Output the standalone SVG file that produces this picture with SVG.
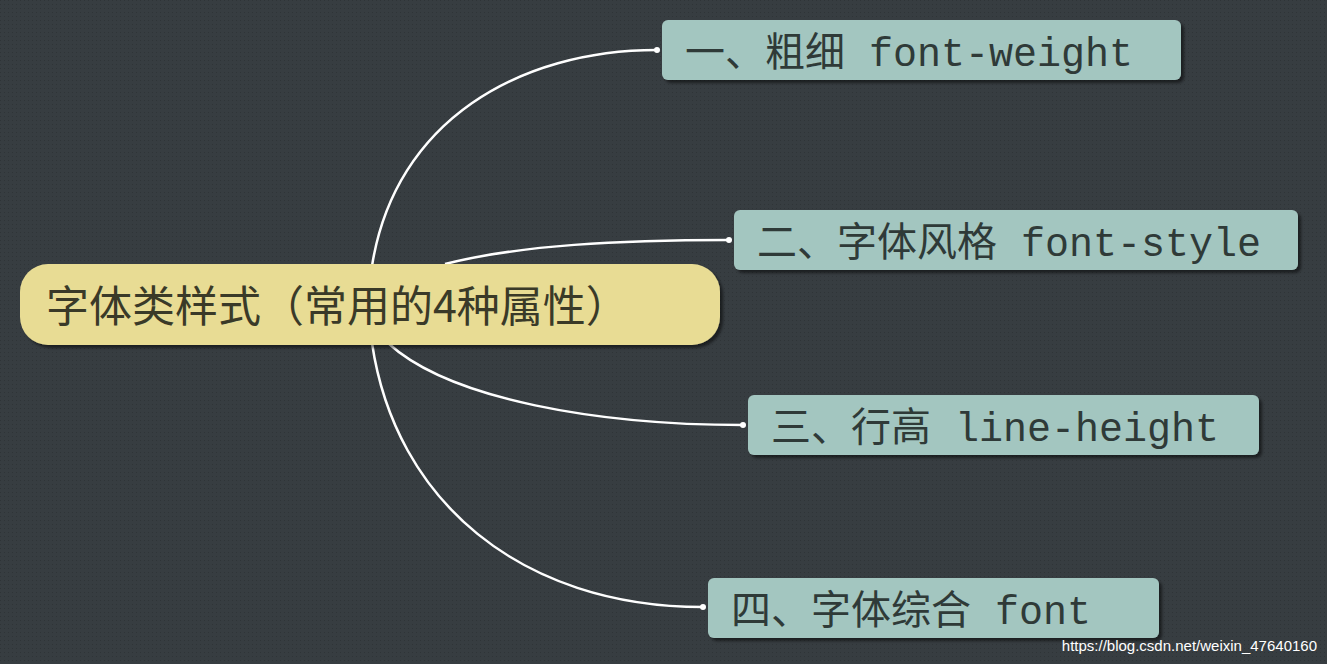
<svg xmlns="http://www.w3.org/2000/svg" width="1327" height="664" viewBox="0 0 1327 664">
<defs>
<pattern id="dots" width="4" height="4" patternUnits="userSpaceOnUse"><rect width="4" height="4" fill="#373d41"/><rect width="1" height="1" fill="#2f3437"/></pattern>
<filter id="sh" x="-5%" y="-20%" width="110%" height="140%"><feDropShadow dx="3" dy="3" stdDeviation="1.5" flood-color="#000" flood-opacity="0.5"/></filter>
<clipPath id="c2"><rect x="734" y="210" width="564" height="60" rx="6"/></clipPath>
</defs>
<style>
.child{fill:#a3c6c0;filter:url(#sh)}
.t{font-family:"Liberation Mono","Noto Sans CJK SC",monospace;font-size:40px;fill:#2f3a38}
.c{fill:none;stroke:#fff;stroke-width:2.5}
</style>
<rect width="1327" height="664" fill="url(#dots)"/>
<g id="connectors">
<path class="c" d="M372,266 C395,120 520,50 657,50"/>
<path class="c" d="M445,264 C520,245 620,240 729,240"/>
<path class="c" d="M388,343 C450,400 600,425 743,425"/>
<path class="c" d="M372,343 C395,500 520,607 703,607"/>
<g fill="#fff"><circle cx="657" cy="50" r="3"/><circle cx="729" cy="240" r="3"/><circle cx="743" cy="425" r="3"/><circle cx="703" cy="607" r="3"/></g>
</g>
<g id="root">
<rect x="20" y="264" width="700" height="81" rx="28" fill="#e8dc94" filter="url(#sh)"/>
<text x="46" y="322" style="font-family:'Noto Sans CJK SC',sans-serif;font-size:43px;fill:#3a3a28">字体类样式（常用的4种属性）</text>
</g>
<g id="n1"><rect class="child" x="662" y="20" width="519" height="60" rx="6"/><text class="t" x="685" y="66">一、粗细 font-weight</text></g>
<g id="n2"><rect class="child" x="734" y="210" width="564" height="60" rx="6"/><text class="t" x="757" y="256" clip-path="url(#c2)">二、字体风格 font-style</text></g>
<g id="n3"><rect class="child" x="748" y="395" width="511" height="60" rx="6"/><text class="t" x="771" y="441">三、行高 line-height</text></g>
<g id="n4"><rect class="child" x="708" y="578" width="451" height="60" rx="6"/><text class="t" x="731" y="624">四、字体综合 font</text></g>
<text x="1317" y="651" text-anchor="end" style="font-family:'Liberation Sans',sans-serif;font-size:15px;fill:#fff">https://blog.csdn.net/weixin_47640160</text>
</svg>
